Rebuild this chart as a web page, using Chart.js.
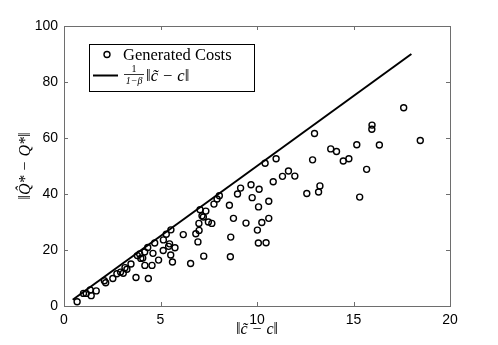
<!DOCTYPE html>
<html>
<head>
<meta charset="utf-8">
<script src="https://cdn.jsdelivr.net/npm/chart.js@4.4.1/dist/chart.umd.min.js"></script>
<style>
  html, body { margin: 0; padding: 0; background: #fff; }
  #wrap { width: 498px; height: 345px; }
</style>
</head>
<body>
<div id="wrap"><canvas id="costCanvas"></canvas></div>
<script>
// generated costs : ||c~ - c|| (x) and ||Q^* - Q*|| (y)
const costX = [0.68, 1.01, 1.15, 1.36, 1.41, 1.67, 2.09, 2.16, 2.53, 2.74, 2.93, 3.07, 3.16, 3.26, 3.47,
  3.73, 4.37, 3.80, 3.92, 3.98, 4.08, 4.18, 4.19, 4.56, 4.34, 4.61, 4.70, 4.90, 5.14, 5.15, 5.30,
  5.54, 5.47, 5.42, 5.75, 5.53, 5.62, 6.18, 6.56, 6.83, 6.94, 7.00, 6.99, 7.05, 7.35, 7.15, 7.22,
  7.48, 7.66, 7.24, 7.77, 7.93, 8.05, 8.57, 8.62, 8.64, 8.78, 8.99, 9.15, 9.43, 9.69, 9.75, 10.02,
  10.07, 10.47, 10.08, 10.11, 10.25, 10.61, 10.61, 10.42, 10.99, 10.84, 11.32, 11.63, 11.96, 12.58,
  12.88, 12.98, 13.19, 13.26, 13.82, 14.12, 14.47, 14.76, 15.17, 15.32, 15.68, 15.96, 15.95, 16.34,
  17.60, 18.46];
const costY = [1.5, 4.5, 4.5, 5.7, 3.7, 5.4, 9.0, 8.3, 9.8, 11.5, 12.1, 11.7, 13.7, 13.1, 15.0,
  10.2, 9.8, 18.0, 18.6, 17.0, 17.1, 19.3, 14.5, 14.5, 20.9, 18.8, 22.5, 16.4, 19.8, 23.6, 25.6,
  27.2, 22.2, 21.3, 20.8, 18.2, 15.7, 25.5, 15.2, 25.8, 22.9, 27.0, 29.5, 34.4, 33.9, 32.2, 31.8,
  30.0, 29.5, 17.8, 36.4, 38.2, 39.4, 36.0, 17.6, 24.6, 31.3, 40.0, 42.1, 29.6, 43.3, 38.7, 27.1,
  22.5, 22.6, 35.4, 41.7, 29.8, 31.3, 37.4, 51.0, 52.6, 44.4, 46.3, 48.2, 46.4, 40.2,
  52.2, 61.6, 40.7, 42.9, 56.1, 55.2, 51.8, 52.6, 57.6, 38.9, 48.8, 64.6, 63.1, 57.5,
  70.8, 59.1];

// bound 1/(1-beta) ||c~ - c||
const boundX = [0.45, 18.0];
const boundY = [2.25, 90.0];

const xTicks = [0, 5, 10, 15, 20];
const yTicks = [0, 20, 40, 60, 80, 100];

const frameColor = "#6e6e6e";
const serif = "'Liberation Serif', 'DejaVu Serif', serif";

// boite façon matlab : cadre + petites graduations vers l'intérieur + légende
const framePlugin = {
    id: "matlabFrame",
    afterDraw(chart) {
        const ctx = chart.ctx;
        const a = chart.chartArea;
        const xs = chart.scales.x, ys = chart.scales.y;
        ctx.save();
        ctx.strokeStyle = frameColor;
        ctx.lineWidth = 1;
        ctx.strokeRect(Math.round(a.left) + 0.5, Math.round(a.top) + 0.5,
            Math.round(a.right - a.left), Math.round(a.bottom - a.top));
        ctx.beginPath();
        xTicks.forEach(v => {
            const px = Math.round(xs.getPixelForValue(v)) + 0.5;
            ctx.moveTo(px, a.bottom); ctx.lineTo(px, a.bottom - 4);
            ctx.moveTo(px, a.top); ctx.lineTo(px, a.top + 4);
        });
        yTicks.forEach(v => {
            const py = Math.round(ys.getPixelForValue(v)) + 0.5;
            ctx.moveTo(a.left, py); ctx.lineTo(a.left + 4, py);
            ctx.moveTo(a.right, py); ctx.lineTo(a.right - 4, py);
        });
        ctx.stroke();

        // légende
        const lx = 89, ly = 44;
        ctx.fillStyle = "#fff";
        ctx.fillRect(lx, ly, 165, 47);
        ctx.strokeStyle = "#000";
        ctx.strokeRect(lx + 0.5, ly + 0.5, 165, 47);
        ctx.lineWidth = 1.4;
        ctx.beginPath();
        ctx.arc(lx + 18, ly + 10.5, 3, 0, Math.PI * 2);
        ctx.stroke();
        ctx.fillStyle = "#000";
        ctx.font = "16.5px " + serif;
        ctx.textBaseline = "alphabetic";
        ctx.textAlign = "left";
        ctx.fillText("Generated Costs", lx + 34, ly + 16);
        ctx.lineWidth = 2;
        ctx.beginPath();
        ctx.moveTo(lx + 4, ly + 31.5); ctx.lineTo(lx + 29, ly + 31.5);
        ctx.stroke();
        // fraction 1/(1-β)
        ctx.font = "10px " + serif;
        ctx.textAlign = "center";
        ctx.fillText("1", lx + 45, ly + 28);
        ctx.font = "italic 10px " + serif;
        ctx.fillText("1\u2212\u03b2", lx + 45, ly + 40);
        ctx.lineWidth = 0.8;
        ctx.beginPath();
        ctx.moveTo(lx + 35, ly + 30.5); ctx.lineTo(lx + 55, ly + 30.5);
        ctx.stroke();
        ctx.textAlign = "left";
        ctx.font = "italic 16.5px " + serif;
        ctx.fillText("\u2016c\u0303 \u2212 c\u2016", lx + 57, ly + 37);
        ctx.restore();
    }
};

const costChart = new Chart(document.getElementById("costCanvas"), {
    type: "scatter",
    data: {
        datasets: [{
            label: "Generated Costs",
            data: costX.map((x, i) => ({ x: x, y: costY[i] })),
            pointStyle: "circle",
            pointRadius: 3,
            pointHoverRadius: 3,
            borderColor: "#000",
            backgroundColor: "rgba(0,0,0,0)",
            borderWidth: 1.4,
            order: 2
        }, {
            type: "line",
            label: "bound",
            data: boundX.map((x, i) => ({ x: x, y: boundY[i] })),
            borderColor: "#000",
            borderWidth: 2,
            pointRadius: 0,
            fill: false,
            order: 1
        }]
    },
    options: {
        responsive: true,
        maintainAspectRatio: false,
        animation: false,
        layout: { padding: { top: 26, right: 48, left: 16, bottom: 0 } },
        plugins: {
            legend: { display: false },
            tooltip: { enabled: false }
        },
        scales: {
            x: {
                type: "linear",
                min: 0, max: 20,
                afterBuildTicks: s => { s.ticks = xTicks.map(v => ({ value: v })); },
                grid: { display: false, drawTicks: false },
                border: { display: false },
                ticks: { color: "#000", padding: 6, font: { family: "'Liberation Sans', Arial, sans-serif", size: 14 } },
                title: {
                    display: true,
                    text: "\u2016c\u0303 \u2212 c\u2016",
                    color: "#000",
                    font: { family: serif, size: 16, style: "italic" },
                    padding: { top: -2, bottom: 6 }
                },
                afterFit: s => { s.height = 39; }
            },
            y: {
                type: "linear",
                min: 0, max: 100,
                afterBuildTicks: s => { s.ticks = yTicks.map(v => ({ value: v })); },
                grid: { display: false, drawTicks: false },
                border: { display: false },
                ticks: { color: "#000", padding: 6, font: { family: "'Liberation Sans', Arial, sans-serif", size: 14 } },
                title: {
                    display: true,
                    text: "\u2016Q\u0302* \u2212 Q*\u2016",
                    color: "#000",
                    font: { family: serif, size: 16, style: "italic" },
                    padding: { top: 0, bottom: 0 }
                },
                afterFit: s => { s.width = 48; }
            }
        }
    },
    plugins: [framePlugin]
});
</script>
</body>
</html>
